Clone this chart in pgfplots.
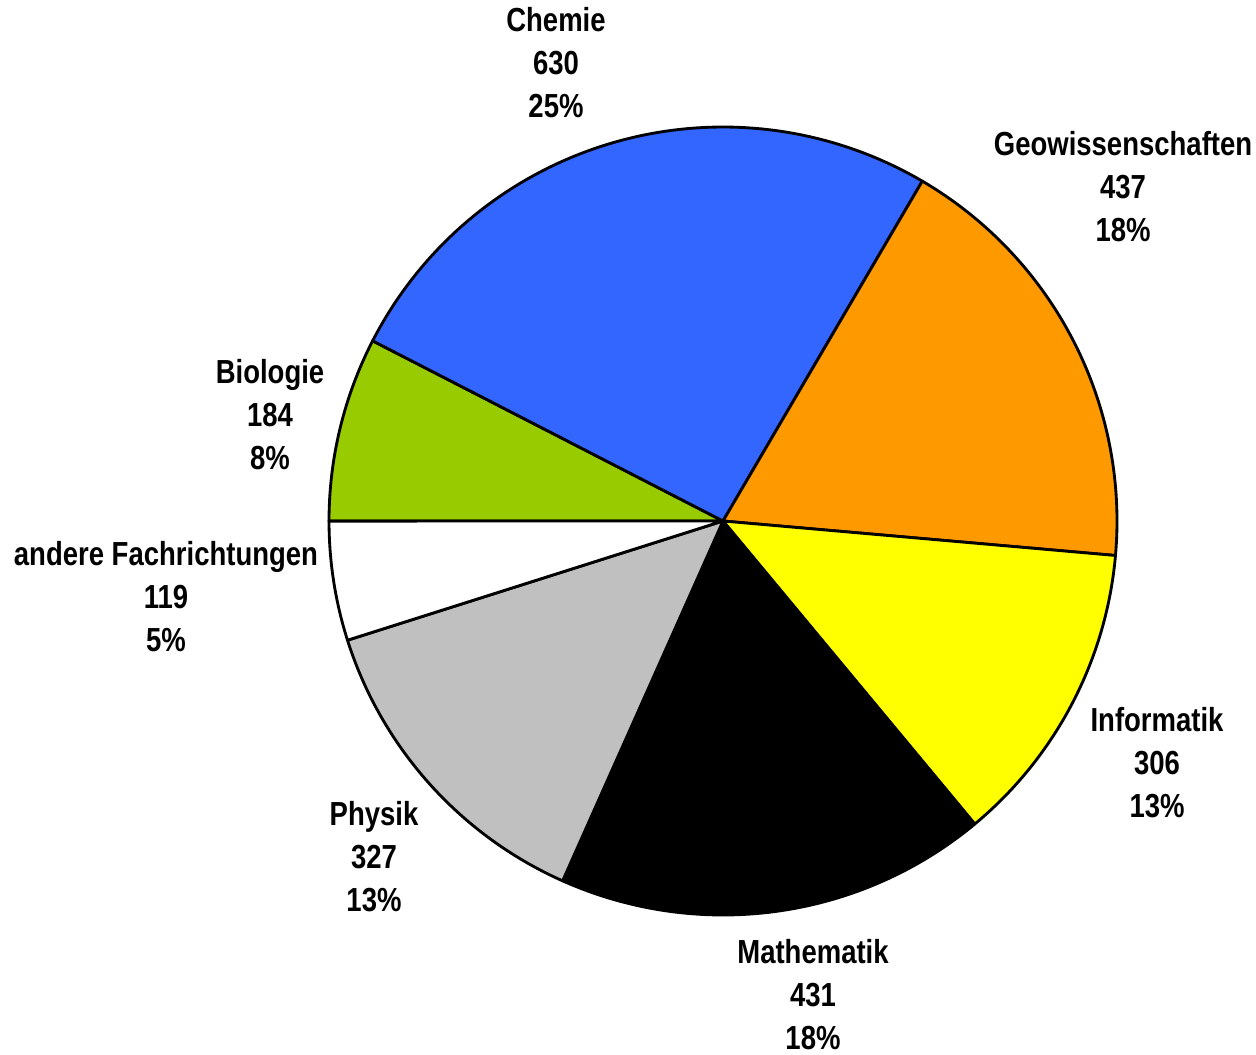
\documentclass[border=0pt]{standalone}
\usepackage{fontspec}
\setmainfont{Liberation Sans}[FakeStretch=0.825]
\usepackage{pgfplots}
\pgfplotsset{compat=1.18}
\definecolor{cBio}{HTML}{99CC00}
\definecolor{cChe}{HTML}{3366FF}
\definecolor{cGeo}{HTML}{FF9900}
\definecolor{cInf}{HTML}{FFFF00}
\definecolor{cMat}{HTML}{000000}
\definecolor{cPhy}{HTML}{C0C0C0}
\definecolor{cAnd}{HTML}{FFFFFF}
% data (counts)
\def\vBio{184}\def\vChe{630}\def\vGeo{437}\def\vInf{306}\def\vMat{431}\def\vPhy{327}\def\vAnd{119}
\pgfmathsetmacro\tot{\vBio+\vChe+\vGeo+\vInf+\vMat+\vPhy+\vAnd}
\pgfmathsetmacro\aA{180}
\pgfmathsetmacro\aB{\aA-\vBio/\tot*360}
\pgfmathsetmacro\aC{\aB-\vChe/\tot*360}
\pgfmathsetmacro\aD{\aC-\vGeo/\tot*360}
\pgfmathsetmacro\aE{\aD-\vInf/\tot*360}
\pgfmathsetmacro\aF{\aE-\vMat/\tot*360}
\pgfmathsetmacro\aG{\aF-\vPhy/\tot*360}
\pgfmathsetmacro\aH{\aG-\vAnd/\tot*360}
\def\cx{723}\def\cy{533}\def\rr{394}
\tikzset{lbl/.style={font=\bfseries\fontsize{10}{12.9}\selectfont, align=center, inner sep=0pt}}
\begin{document}
\begin{tikzpicture}
\begin{axis}[
  scale only axis, width=376.8pt, height=316.2pt,
  xmin=0, xmax=1256, ymin=0, ymax=1054,
  hide axis, clip=false,
]
\path (axis cs:0,0) rectangle (axis cs:1256,1054);
\newcommand\slice[3]{%
  \addplot[fill=#1, draw=black, line width=0.85pt, line join=round, domain=#3:#2, samples=80, variable=\t]
    ({\cx+\rr*cos(\t)},{\cy+\rr*sin(\t)}) -- (axis cs:\cx,\cy) -- cycle;}
\slice{cBio}{\aA}{\aB}
\slice{cChe}{\aB}{\aC}
\slice{cGeo}{\aC}{\aD}
\slice{cInf}{\aD}{\aE}
\slice{cMat}{\aE}{\aF}
\slice{cPhy}{\aF}{\aG}
\slice{cAnd}{\aG}{\aH}
\node[lbl] at (axis cs:556,991) {Chemie\\630\\25\%};
\node[lbl] at (axis cs:1123,867) {Geowissenschaften\\437\\18\%};
\node[lbl] at (axis cs:1157,291) {Informatik\\306\\13\%};
\node[lbl] at (axis cs:813,59) {Mathematik\\431\\18\%};
\node[lbl] at (axis cs:374,197) {Physik\\327\\13\%};
\node[lbl] at (axis cs:166,457) {andere Fachrichtungen\\119\\5\%};
\node[lbl] at (axis cs:270,639) {Biologie\\184\\8\%};
\end{axis}
\end{tikzpicture}
\end{document}
